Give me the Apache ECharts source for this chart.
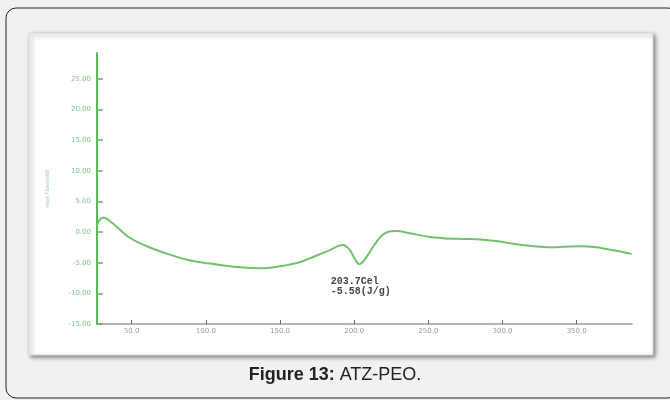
<!DOCTYPE html>
<html>
<head>
<meta charset="utf-8">
<script src="https://cdn.jsdelivr.net/npm/echarts@6/dist/echarts.min.js"></script>
<style>html,body{margin:0;padding:0;background:#f0f1f3;}#c{width:670px;height:400px;}</style>
</head>
<body>
<div id="c"></div>
<script>
// Data
const temperature = [26.6, 28.5, 31, 34.2, 41, 47.7, 54.4, 63.5, 74.6, 88, 101.6, 112, 125, 138, 145, 152, 162, 170, 176, 183.6, 189, 192.6, 197, 200.5, 203.5, 206, 208.5, 215, 219, 223, 228.6, 237.5, 250, 260, 272, 285, 297, 307, 316, 334, 345, 354, 362, 370, 378, 387];
const heatFlow    = [1.1, 2.0, 2.35, 2.0, 0.6, -0.77, -1.7, -2.65, -3.6, -4.55, -5.1, -5.45, -5.8, -5.9, -5.8, -5.5, -5.0, -4.3, -3.7, -2.95, -2.3, -2.1, -2.9, -4.4, -5.25, -4.8, -4.0, -1.6, -0.5, 0.05, 0.16, -0.2, -0.77, -1.0, -1.12, -1.2, -1.5, -1.9, -2.2, -2.5, -2.35, -2.3, -2.45, -2.75, -3.1, -3.6];
const xTicks = [50, 100, 150, 200, 250, 300, 350];
const yTicks = [-15, -10, -5, 0, 5, 10, 15, 20, 25];
const peakT = 203.7, peakV = -5.58;
const peakLabel = '203.7Cel\n-5.58(J/g)';
const yName = 'Heat Flow(mW)';
const caption = 'Figure 13:';
const captionRest = ' ATZ-PEO.';

const chart = echarts.init(document.getElementById('c'), null, {renderer: 'canvas'});
const data = temperature.map((t, i) => [t, heatFlow[i]]);
chart.setOption({
  backgroundColor: '#f0f1f3',
  animation: false,
  graphic: [
    {type: 'rect', z: -10, shape: {x: 6, y: 8, width: 672, height: 390, r: 10},
     style: {fill: '#f0f1f3', stroke: '#222', lineWidth: 1}},
    {type: 'rect', z: -9, shape: {x: 29, y: 33, width: 624, height: 322},
     style: {fill: '#ffffff', stroke: '#d8d8d8', lineWidth: 1, shadowBlur: 4, shadowOffsetX: 2, shadowOffsetY: 2, shadowColor: 'rgba(0,0,0,0.45)'}},
    {type: 'text', left: 'center', top: 366, z: 10,
     style: {rich: {b: {fontWeight: 'bold', fontSize: 18, fontFamily: 'Liberation Sans', fill: '#222'},
                    n: {fontSize: 18, fontFamily: 'Liberation Sans', fill: '#222'}},
             text: '{b|' + caption + '}{n|' + captionRest + '}'}}
  ],
  grid: {left: 97, right: 38, top: 53, bottom: 76, containLabel: false},
  xAxis: {
    type: 'value', min: 26.6, max: 387.3,
    axisLine: {onZero: false, lineStyle: {color: '#9a9a9a', width: 1.5}},
    axisTick: {inside: true, length: 4, lineStyle: {color: '#666'}, customValues: xTicks},
    axisLabel: {customValues: xTicks, formatter: v => v.toFixed(1), color: '#999', fontSize: 7, fontFamily: 'DejaVu Sans', margin: 4},
    splitLine: {show: false}
  },
  yAxis: {
    type: 'value', min: -15, max: 29.2,
    name: yName, nameLocation: 'middle', nameGap: 47, nameRotate: 90,
    nameTextStyle: {color: '#8fd08f', fontSize: 5, fontFamily: 'DejaVu Sans'},
    axisLine: {lineStyle: {color: '#5cb85c', width: 2}},
    axisTick: {inside: true, length: 6, lineStyle: {color: '#5cb85c', width: 1.5}, customValues: yTicks},
    axisLabel: {customValues: yTicks, formatter: v => v.toFixed(2), color: '#80c880', fontSize: 7, fontFamily: 'DejaVu Sans', margin: 6},
    splitLine: {show: false}
  },
  series: [{
    type: 'line', data: data, smooth: 0.3, showSymbol: false,
    lineStyle: {color: '#72c16c', width: 2},
    markPoint: {
      symbol: 'circle', symbolSize: 0,
      data: [{coord: [peakT, peakV], value: peakLabel}],
      label: {show: true, formatter: peakLabel, position: 'bottom', align: 'left', distance: 0, offset: [-29, 10],
              color: '#444', fontSize: 10, fontWeight: 'bold', fontFamily: 'Liberation Mono', lineHeight: 10}
    }
  }]
});
</script>
</body>
</html>
